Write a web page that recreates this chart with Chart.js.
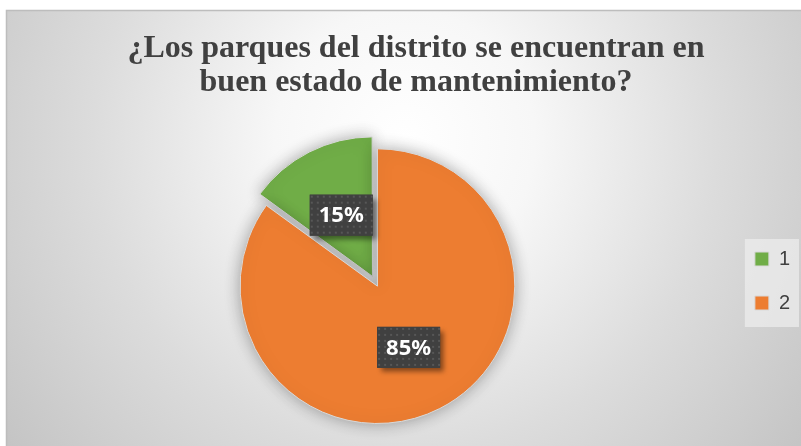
<!DOCTYPE html>
<html>
<head>
<meta charset="utf-8">
<script src="https://cdn.jsdelivr.net/npm/chart.js@4.4.0/dist/chart.umd.min.js"></script>
<style>
    html, body { margin: 0; padding: 0; background: #ffffff; }
    #wrap { width: 801px; height: 446px; position: relative; }
</style>
</head>
<body>
<div id="wrap"><canvas id="pieChart" width="801" height="446"></canvas></div>
<script>
// Chart data
const categories = ['1', '2'];
const values = [15, 85];
const sliceColors = ['#70AD47', '#ED7D31'];
const titleLines = ['¿Los parques del distrito se encuentran en', 'buen estado de mantenimiento?'];

// Gray radial backdrop behind the whole chart, like the Excel style
const backdropPlugin = {
    id: 'backdrop',
    beforeDraw(chart) {
        const ctx = chart.ctx;
        ctx.save();
        ctx.fillStyle = '#ffffff';
        ctx.fillRect(0, 0, chart.width, chart.height);
        const grad = ctx.createRadialGradient(405, 140, 0, 405, 140, 520);
        grad.addColorStop(0, '#ffffff');
        grad.addColorStop(0.25, '#f7f7f7');
        grad.addColorStop(0.6, '#dcdcdc');
        grad.addColorStop(1, '#c2c2c2');
        ctx.fillStyle = grad;
        ctx.fillRect(6, 10, chart.width - 6, chart.height - 10);
        ctx.strokeStyle = '#bdbdbd';
        ctx.lineWidth = 1.5;
        ctx.beginPath();
        ctx.moveTo(6.5, chart.height);
        ctx.lineTo(6.5, 10.5);
        ctx.lineTo(chart.width, 10.5);
        ctx.stroke();
        ctx.restore();
    },
    beforeDatasetsDraw(chart) {
        // soft shadow under the pie
        const ctx = chart.ctx;
        ctx.save();
        ctx.shadowColor = 'rgba(0, 0, 0, 0.32)';
        ctx.shadowBlur = 16;
    },
    afterDatasetsDraw(chart) {
        chart.ctx.restore();
    }
};

// Light box behind the legend
const legendBoxPlugin = {
    id: 'legendBox',
    beforeDraw(chart) {
        const legend = chart.legend;
        if (!legend || !legend.legendHitBoxes || !legend.legendHitBoxes.length) return;
        const boxes = legend.legendHitBoxes;
        const first = boxes[0];
        const last = boxes[boxes.length - 1];
        const ctx = chart.ctx;
        const x = first.left - 10;
        const y = first.top - 10;
        ctx.save();
        ctx.fillStyle = 'rgba(236, 236, 236, 0.75)';
        ctx.fillRect(x, y, legend.right - x - 1, last.top + last.height + 14 - y);
        ctx.restore();
    }
};

// Dark percentage tags in the middle of each slice
function makeDotPattern(ctx) {
    const tile = document.createElement('canvas');
    tile.width = 6;
    tile.height = 6;
    const t = tile.getContext('2d');
    t.fillStyle = '#404040';
    t.fillRect(0, 0, 6, 6);
    t.fillStyle = '#575757';
    t.fillRect(1, 1, 2, 2);
    return ctx.createPattern(tile, 'repeat');
}

const percentTagPlugin = {
    id: 'percentTags',
    afterDraw(chart) {
        const ctx = chart.ctx;
        const meta = chart.getDatasetMeta(0);
        const total = values.reduce((a, b) => a + b, 0);
        const pattern = makeDotPattern(ctx);
        meta.data.forEach((arc, i) => {
            // arcs are pushed out by offset / 4 when drawn
            const mid = (arc.startAngle + arc.endAngle) / 2;
            const dist = arc.outerRadius / 2 + (arc.options.offset || 0) / 4;
            const px = arc.x + Math.cos(mid) * dist;
            const py = arc.y + Math.sin(mid) * dist;
            const text = Math.round(values[i] / total * 100) + '%';
            const w = 63, h = 41;
            ctx.save();
            ctx.shadowColor = 'rgba(0, 0, 0, 0.45)';
            ctx.shadowBlur = 5;
            ctx.shadowOffsetX = 4;
            ctx.shadowOffsetY = 4;
            ctx.fillStyle = '#404040';
            ctx.fillRect(px - w / 2, py - h / 2, w, h);
            ctx.restore();
            ctx.save();
            ctx.fillStyle = pattern;
            ctx.translate(px - w / 2, py - h / 2);
            ctx.fillRect(0, 0, w, h);
            ctx.restore();
            ctx.save();
            ctx.fillStyle = '#ffffff';
            ctx.font = 'bold 22px "Noto Sans", "Liberation Sans", sans-serif';
            ctx.textAlign = 'center';
            ctx.textBaseline = 'middle';
            ctx.fillText(text, px, py + 1);
            ctx.restore();
        });
    }
};

document.addEventListener('DOMContentLoaded', () => {
    const ctx = document.getElementById('pieChart');
    new Chart(ctx, {
        type: 'pie',
        data: {
            labels: categories,
            datasets: [{
                data: values,
                backgroundColor: sliceColors,
                borderColor: '#d9d9d9',
                borderWidth: 1,
                offset: [44, 0],
                hoverOffset: 0
            }]
        },
        options: {
            responsive: false,
            animation: false,
            events: [],
            rotation: -54,
            layout: {
                padding: { top: 10, left: 24, right: 1, bottom: -0.3 }
            },
            plugins: {
                title: {
                    display: true,
                    // leading space nudges the centred title a few px right
                    text: titleLines.map(l => ' ' + l),
                    color: '#404040',
                    font: { family: '"Liberation Serif", "Times New Roman", serif', size: 32, weight: 'bold', lineHeight: 1.0625 },
                    padding: { top: 22, bottom: 26.3 }
                },
                legend: {
                    display: true,
                    position: 'right',
                    title: {
                        display: true,
                        text: '',
                        font: { size: 1 },
                        padding: { top: 104.5, bottom: 0 }
                    },
                    labels: {
                        boxWidth: 14,
                        boxHeight: 14,
                        padding: 24,
                        color: '#404040',
                        font: { family: '"Liberation Sans", Arial, sans-serif', size: 20 }
                    }
                },
                tooltip: { enabled: false }
            }
        },
        plugins: [backdropPlugin, legendBoxPlugin, percentTagPlugin]
    });
});
</script>
</body>
</html>
